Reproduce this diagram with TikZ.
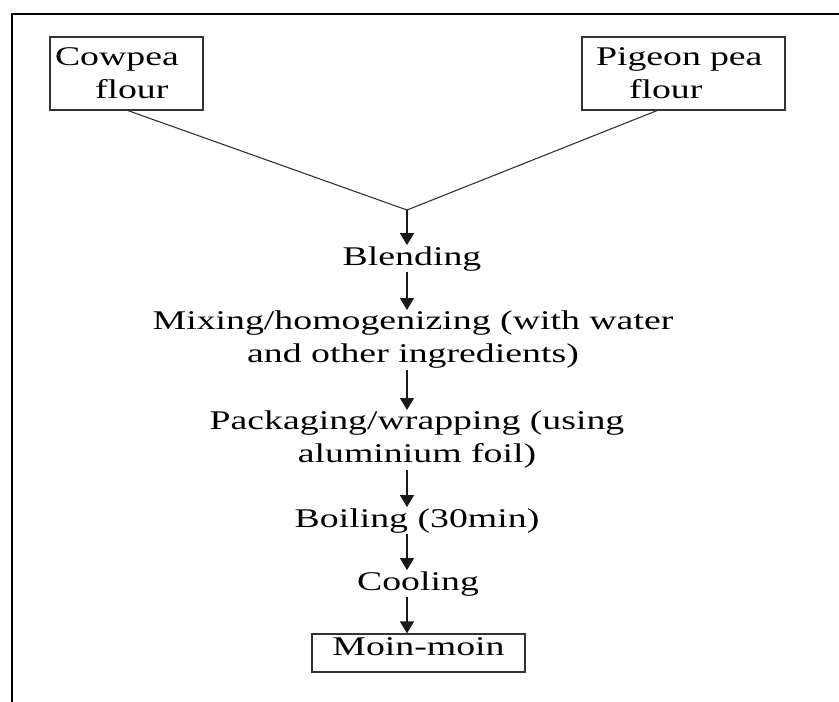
\documentclass[tikz,border=0pt]{standalone}
\usepackage{fontspec}
\setmainfont[FakeStretch=1.4]{Liberation Serif}
\usetikzlibrary{arrows.meta,calc}
\begin{document}
\begin{tikzpicture}[x=1pt,y=-1pt,
  every node/.style={font=\fontsize{27}{33}\selectfont},
  txt/.style={inner sep=1pt, align=center},
  srcbox/.style={draw=black!80, line width=1.2pt, align=left, minimum height=73pt, inner ysep=0pt},
  endbox/.style={draw=black!80, line width=1.2pt, minimum width=213pt, minimum height=38pt,
                 inner sep=0pt, text height=21pt, text depth=17pt},
  link/.style={draw=black!80, line width=1.1pt},
  arr/.style={draw=black!90, line width=1.4pt, -{Triangle[width=14pt,length=12pt]}}
]
\useasboundingbox (0,0) rectangle (839,702);
\draw[line width=2pt] (12,702) -- (12,14) -- (839,14);

\node[srcbox, inner xsep=5pt, text width=143pt] (cow) at (126.5,73.5) {Cowpea\\\hspace*{40pt}flour};
\node[srcbox, inner xsep=14pt, text width=175pt] (pig) at (683.5,73.5) {Pigeon pea\\\hspace*{33pt}flour};

\coordinate (j) at (407,210);
\coordinate (cowout) at ($(cow.south west)!0.51!(cow.south east)$);
\coordinate (pigout) at ($(pig.south west)!0.37!(pig.south east)$);
\draw[link] (cowout) -- (j) -- (pigout);

\node[txt, anchor=base] (blend) at (412,265) {Blending};
\node[txt, anchor=north] (mix) at (413,310) {Mixing/homogenizing (with water\\and other ingredients)};
\node[txt, anchor=north] (pack) at (417,410) {Packaging/wrapping (using\\aluminium foil)};
\node[txt, anchor=base] (boil) at (417,527) {Boiling (30min)};
\node[txt, anchor=base] (cool) at (418,590) {Cooling};
\node[endbox] (moin) at (418.5,653) {Moin-moin};

\draw[arr] (j) -- (blend.north -| j);
\draw[arr] (blend.south -| j) -- (mix.north -| j);
\draw[arr] (mix.south -| j) -- (pack.north -| j);
\draw[arr] (pack.south -| j) -- (boil.north -| j);
\draw[arr] (boil.south -| j) -- (cool.north -| j);
\draw[arr] (cool.south -| j) -- (moin.north -| j);
\end{tikzpicture}
\end{document}
